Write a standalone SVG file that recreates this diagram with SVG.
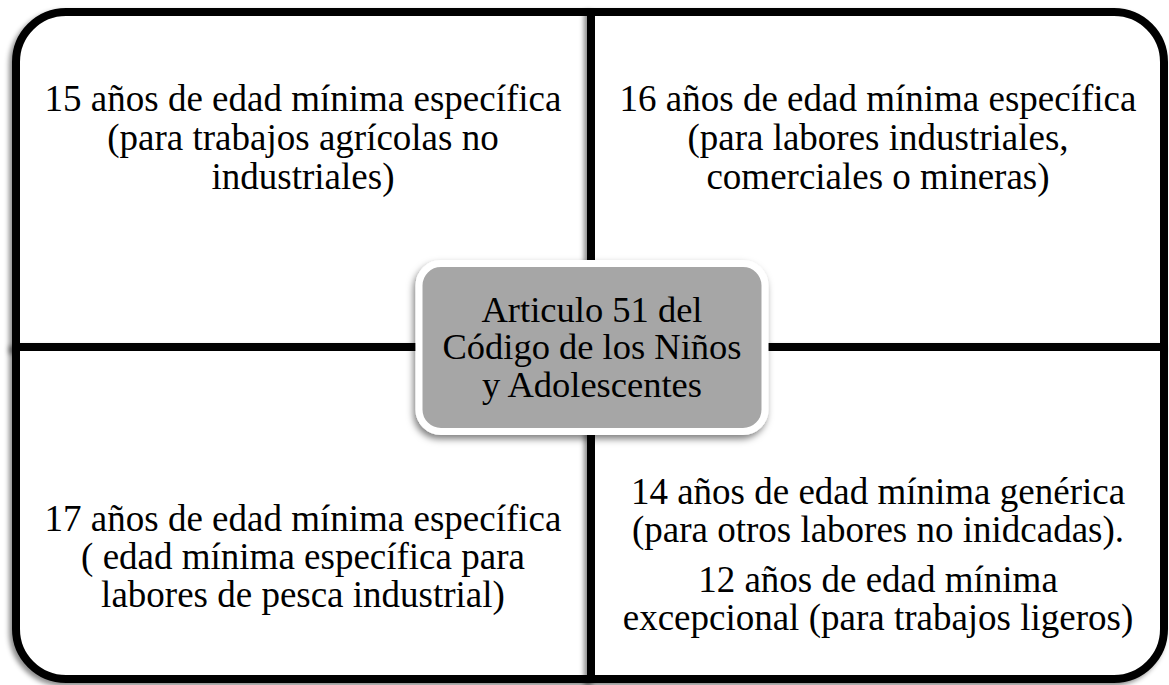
<svg xmlns="http://www.w3.org/2000/svg" width="1169" height="685" viewBox="0 0 1169 685">
  <defs>
    <filter id="shadow" x="-5%" y="-5%" width="110%" height="110%">
      <feDropShadow dx="-3" dy="3" stdDeviation="2.5" flood-color="#000" flood-opacity="0.45"/>
    </filter>
    <filter id="shadowC" x="-10%" y="-10%" width="120%" height="125%">
      <feDropShadow dx="-2" dy="4" stdDeviation="3.5" flood-color="#000" flood-opacity="0.5"/>
    </filter>
  </defs>
  <style>
    .quad { fill: #ffffff; stroke: #000000; stroke-width: 8; stroke-linejoin: miter; filter: url(#shadow); }
    .center { fill: #a6a6a6; stroke: #ffffff; stroke-width: 7; filter: url(#shadowC); }
    .t { font-family: "Liberation Serif", "Times New Roman", serif; font-size: 37px; fill: #000000; text-anchor: middle; }
    .tc { font-family: "Liberation Serif", "Times New Roman", serif; font-size: 36.5px; fill: #000000; text-anchor: middle; }
  </style>
  <rect x="0" y="0" width="1169" height="685" fill="#ffffff"/>

  <g id="quad-top-left">
    <path class="quad" d="M591,347 V12 H66 A50,50 0 0 0 16,62 V347 Z"/>
    <text class="t" x="303" y="111">15 años de edad mínima específica</text>
    <text class="t" x="303" y="150">(para trabajos agrícolas no</text>
    <text class="t" x="303" y="189">industriales)</text>
  </g>

  <g id="quad-top-right">
    <path class="quad" d="M591,12 H1114 A50,50 0 0 1 1164,62 V347 H591 Z"/>
    <text class="t" x="878" y="111">16 años de edad mínima específica</text>
    <text class="t" x="878" y="150">(para labores industriales,</text>
    <text class="t" x="878" y="189">comerciales o mineras)</text>
  </g>

  <g id="quad-bottom-left">
    <path class="quad" d="M16,347 H591 V679 H66 A50,50 0 0 1 16,629 Z"/>
    <text class="t" x="303" y="531">17 años de edad mínima específica</text>
    <text class="t" x="303" y="569">( edad mínima específica para</text>
    <text class="t" x="303" y="607">labores de pesca industrial)</text>
  </g>

  <g id="quad-bottom-right">
    <path class="quad" d="M591,347 H1164 V629 A50,50 0 0 1 1114,679 H591 Z"/>
    <text class="t" x="878" y="504">14 años de edad mínima genérica</text>
    <text class="t" x="878" y="542">(para otros labores no inidcadas).</text>
    <text class="t" x="878" y="592">12 años de edad mínima</text>
    <text class="t" x="878" y="630">excepcional (para trabajos ligeros)</text>
  </g>

  <g id="center-node">
    <rect class="center" x="419" y="263.5" width="346" height="168" rx="22" ry="22"/>
    <text class="tc" x="592" y="322">Articulo 51 del</text>
    <text class="tc" x="592" y="359">Código de los Niños</text>
    <text class="tc" x="592" y="397">y Adolescentes</text>
  </g>

  <g id="connectors"></g>
</svg>
